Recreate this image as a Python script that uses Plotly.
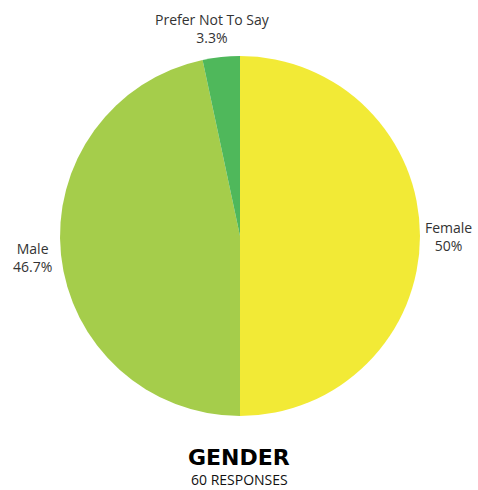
import math
import plotly.graph_objects as go

# Survey responses by gender
labels = ["Female", "Male", "Prefer Not To Say"]
counts = [30, 28, 2]
pct_text = ["50%", "46.7%", "3.3%"]
colors = ["#F2EA36", "#A5CD4B", "#4FB85B"]
title = "GENDER"
subtitle = "60 RESPONSES"

W, H = 478, 490
cx, cy, R = 240, 236, 180  # pie centre and radius in pixels

fig = go.Figure(go.Pie(
    labels=labels,
    values=counts,
    marker=dict(colors=colors, line=dict(width=0)),
    textinfo="none",
    sort=False,
    direction="clockwise",
    rotation=0,
    hoverinfo="label+percent",
    domain=dict(x=[(cx - R) / W, (cx + R) / W], y=[1 - (cy + R) / H, 1 - (cy - R) / H]),
))

# Place each label outside its slice at the slice's mid-angle
total = sum(counts)
cum = 0
r_lab = R * 1.16
for lab, v, p in zip(labels, counts, pct_text):
    mid = (cum + v / 2) / total * 2 * math.pi
    cum += v
    px = cx + r_lab * math.sin(mid)
    py = cy - r_lab * math.cos(mid)
    if abs(math.sin(mid)) < 0.3:
        px -= 6  # nudge near-vertical labels slightly left
    fig.add_annotation(
        x=px / W, y=1 - py / H, xref="paper", yref="paper",
        text=f"{lab}<br>{p}", showarrow=False,
        xanchor="center", yanchor="middle", align="center",
        font=dict(family="Open Sans", size=14, color="#333333"),
    )

fig.add_annotation(
    x=0.5, y=1 - 457 / H, xref="paper", yref="paper", text=f"<b>{title}</b>",
    showarrow=False, xanchor="center", yanchor="middle",
    font=dict(family="DejaVu Sans", size=22, color="#000000"),
)
fig.add_annotation(
    x=0.5, y=1 - 479 / H, xref="paper", yref="paper", text=subtitle,
    showarrow=False, xanchor="center", yanchor="middle",
    font=dict(family="Open Sans", size=14, color="#111111"),
)

fig.update_layout(
    width=W, height=H,
    margin=dict(l=0, r=0, t=0, b=0),
    paper_bgcolor="white", plot_bgcolor="white",
    showlegend=False,
)

fig.write_html("out.html")
